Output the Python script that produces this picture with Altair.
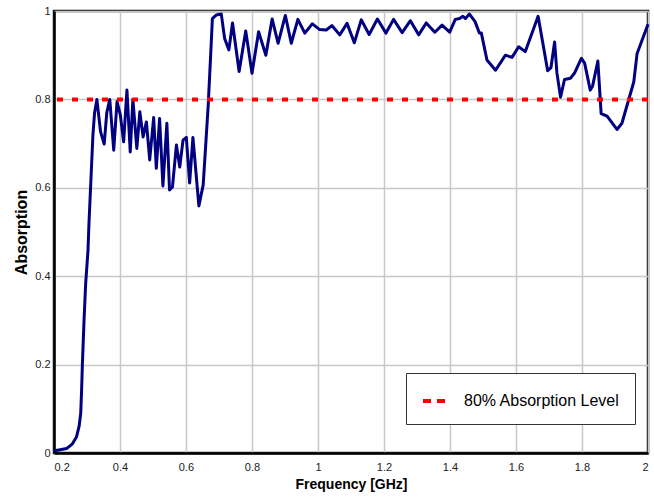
import altair as alt
import pandas as pd

# Absorption curve
freq_ghz = [
    0.200, 0.215, 0.238, 0.255, 0.268, 0.276, 0.281, 0.284, 0.286, 0.291,
    0.296, 0.303, 0.306, 0.312, 0.318, 0.323, 0.330, 0.341, 0.352, 0.360,
    0.369, 0.381, 0.391, 0.401, 0.411, 0.421, 0.431, 0.439, 0.451, 0.460,
    0.470, 0.480, 0.490, 0.502, 0.510, 0.520, 0.530, 0.542, 0.550, 0.559,
    0.571, 0.581, 0.591, 0.601, 0.611, 0.621, 0.639, 0.652, 0.660, 0.667,
    0.674, 0.680, 0.692, 0.707, 0.717, 0.730, 0.741, 0.761, 0.781, 0.800,
    0.820, 0.842, 0.861, 0.879, 0.901, 0.919, 0.939, 0.960, 0.983, 1.005,
    1.025, 1.042, 1.066, 1.088, 1.110, 1.131, 1.155, 1.180, 1.206, 1.229,
    1.255, 1.280, 1.305, 1.328, 1.354, 1.376, 1.399, 1.416, 1.429, 1.439,
    1.447, 1.459, 1.476, 1.489, 1.495, 1.512, 1.538, 1.568, 1.588, 1.608,
    1.628, 1.667, 1.696, 1.706, 1.717, 1.724, 1.735, 1.747, 1.765, 1.777,
    1.798, 1.808, 1.825, 1.832, 1.848, 1.858, 1.876, 1.906, 1.921, 1.957,
    1.967, 2.000,
]
absorption = [
    0.005, 0.007, 0.010, 0.020, 0.036, 0.060, 0.090, 0.150, 0.200, 0.300,
    0.384, 0.458, 0.520, 0.620, 0.720, 0.770, 0.800, 0.727, 0.699, 0.770,
    0.800, 0.685, 0.795, 0.765, 0.704, 0.821, 0.681, 0.800, 0.689, 0.772,
    0.715, 0.749, 0.663, 0.759, 0.644, 0.757, 0.604, 0.746, 0.595, 0.602,
    0.697, 0.647, 0.708, 0.714, 0.611, 0.714, 0.559, 0.606, 0.700, 0.783,
    0.889, 0.983, 0.991, 0.993, 0.938, 0.912, 0.973, 0.863, 0.955, 0.859,
    0.953, 0.900, 0.982, 0.927, 0.990, 0.927, 0.981, 0.950, 0.971, 0.958,
    0.957, 0.967, 0.946, 0.972, 0.928, 0.980, 0.947, 0.982, 0.950, 0.981,
    0.951, 0.978, 0.946, 0.973, 0.952, 0.968, 0.952, 0.981, 0.983, 0.988,
    0.983, 0.993, 0.976, 0.950, 0.950, 0.889, 0.866, 0.900, 0.895, 0.919,
    0.908, 0.988, 0.865, 0.872, 0.930, 0.860, 0.805, 0.845, 0.848, 0.859,
    0.893, 0.882, 0.821, 0.830, 0.887, 0.768, 0.762, 0.732, 0.746, 0.840,
    0.904, 0.970,
]

level_label = ["80% Absorption Level"]
level_value = [0.8]

x_ticks = [0.2, 0.4, 0.6, 0.8, 1.0, 1.2, 1.4, 1.6, 1.8, 2.0]
y_ticks = [0.0, 0.2, 0.4, 0.6, 0.8, 1.0]

curve_df = pd.DataFrame({"f": freq_ghz, "a": absorption})
level_df = pd.DataFrame({"name": level_label, "a": level_value})

FONT = "Liberation Sans"

x_enc = alt.X(
    "f:Q",
    scale=alt.Scale(domain=[0.2, 2.0], nice=False, zero=False),
    axis=alt.Axis(
        values=x_ticks, format="~g", title="Frequency [GHz]",
        grid=True, ticks=False, labelPadding=8, titlePadding=5,
    ),
)
y_enc = alt.Y(
    "a:Q",
    scale=alt.Scale(domain=[0, 1], nice=False),
    axis=alt.Axis(
        values=y_ticks, format="~g", title="Absorption",
        grid=True, ticks=False, labelPadding=4, titlePadding=5,
    ),
)

curve = alt.Chart(curve_df).mark_line(
    color="#000080", strokeWidth=3, strokeJoin="round"
).encode(x=x_enc, y=y_enc)

level = alt.Chart(level_df).mark_rule(
    strokeWidth=4, strokeDash=[6, 9], strokeCap="butt"
).encode(
    y=alt.Y("a:Q"),
    color=alt.Color(
        "name:N",
        scale=alt.Scale(range=["#ff0000"]),
        legend=alt.Legend(
            title=None,
            orient="none",
            legendX=352,
            legendY=362,
            symbolType="stroke",
            symbolStrokeWidth=4,
            symbolDash=[8, 6, 8, 100],
            symbolSize=484,
            labelFontSize=16,
            labelFont=FONT,
            labelColor="#000000",
            labelOffset=17,
            padding=15,
            strokeColor="#333333",
            fillColor="#ffffff",
            labelLimit=400,
        ),
    ),
)

chart = (
    alt.layer(curve, level)
    .properties(
        width=594,
        height=442,
        autosize=alt.AutoSizeParams(type="none"),
        padding={"left": 54, "top": 11, "right": 6, "bottom": 47},
    )
    .configure_view(stroke="#111111", strokeWidth=2.5)
    .configure_axis(
        gridColor="#c8c8c8",
        gridWidth=1.5,
        domainColor="#000000",
        domainWidth=2.5,
        labelFont=FONT,
        labelFontSize=11,
        labelColor="#222222",
        titleFont=FONT,
        titleFontWeight="bold",
        titleColor="#000000",
    )
    .configure_axisX(titleFontSize=14)
    .configure_axisY(titleFontSize=16)
)

chart.save("out.html", embed_options={"renderer": "svg", "actions": False})
